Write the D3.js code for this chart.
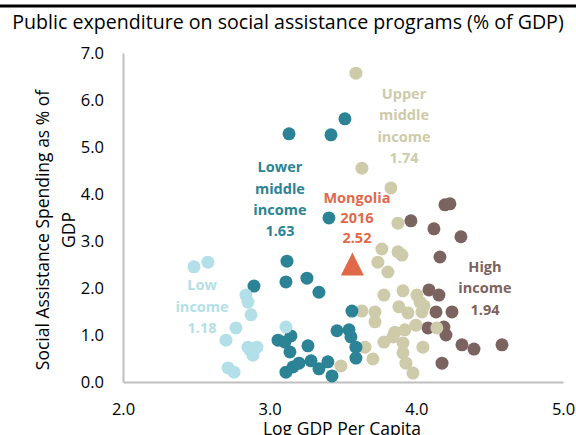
<!DOCTYPE html>
<html><head><meta charset="utf-8">
<script src="https://cdn.jsdelivr.net/npm/d3@7"></script>
<style>html,body{margin:0;padding:0;background:#fff;overflow:hidden}svg{display:block}</style>
</head><body>
<svg id="chart" width="576" height="435"></svg>
<script>
// ---- data (x = log GDP per capita, y = social assistance spending % of GDP)
const lowIncomeX = [2.484,2.579,2.838,2.852,2.873,2.770,2.702,2.852,2.913,2.886,2.866,2.716,2.757,3.111];
const lowIncomeY = [2.45,2.55,1.85,1.70,1.43,1.15,0.89,0.74,0.74,0.57,0.68,0.30,0.21,1.17];

const lowerMiddleX = [3.132,3.418,3.513,3.404,3.118,3.111,3.254,3.336,3.561,3.459,3.541,3.554,3.588,3.588,3.057,3.104,3.145,3.138,3.261,3.282,3.336,3.397,3.425,3.111,3.159,3.200,2.893];
const lowerMiddleY = [5.28,5.26,5.60,3.49,2.57,2.13,2.21,1.91,1.51,1.09,1.11,0.96,0.74,0.51,0.89,0.85,0.98,0.64,0.77,0.45,0.28,0.43,0.13,0.21,0.32,0.40,2.04];

const upperMiddleX = [3.588,3.629,3.827,3.875,3.765,3.875,3.902,3.738,3.806,3.779,3.909,4.004,4.025,4.052,4.038,3.881,3.943,3.629,3.718,3.718,3.997,4.140,3.854,3.922,3.840,3.779,3.909,3.909,3.929,3.977,4.045,3.704,3.650,3.486];
const upperMiddleY = [6.57,4.55,4.13,3.38,2.83,2.77,2.70,2.55,2.34,1.85,1.94,1.85,1.70,1.62,1.49,1.60,1.47,1.51,1.49,1.28,1.21,1.15,1.06,1.11,0.96,0.85,0.83,0.62,0.40,0.19,0.74,0.49,0.74,0.34];

const highIncomeX = [4.195,4.229,3.963,4.120,4.304,4.161,4.086,4.154,4.134,4.243,4.079,4.188,4.202,4.311,4.393,4.584,4.175];
const highIncomeY = [3.77,3.79,3.43,3.26,3.09,2.66,1.96,1.85,1.49,1.49,1.15,1.17,1.00,0.79,0.70,0.79,0.40];

const mongoliaX = [3.564];
const mongoliaY = [2.52];

const groupNames = ["High income","Upper middle income","Lower middle income","Low income"];
const groupAverages = [1.94, 1.74, 1.63, 1.18];
const mongoliaLabel = ["Mongolia", "2016", "2.52"];

const xTicks = [2,3,4,5];
const yTicks = [0,1,2,3,4,5,6,7];

const titleText = "Public expenditure on social assistance programs (% of GDP)";
const xTitle = "Log GDP Per Capita";
const yTitleLines = ["Social Assistance Spending as % of", "GDP"];

// ---- layout / style
const FONT = "'Open Sans','Noto Sans',sans-serif";
const colors = {
  "Low income": "#b3e0e8",
  "Lower middle income": "#2b8395",
  "Upper middle income": "#cdcbaa",
  "High income": "#7b6360",
  "Mongolia": "#e0694a"
};

const svg = d3.select("#chart");
const x = d3.scaleLinear().domain([2,5]).range([123,563]);
const y = d3.scaleLinear().domain([0,7]).range([382,53]);

// top rule
svg.append("line").attr("x1",0).attr("x2",576).attr("y1",6).attr("y2",6)
  .attr("stroke","#000").attr("stroke-width",3);

// title
svg.append("text").attr("x",288).attr("y",29).attr("text-anchor","middle")
  .style("font-family",FONT).style("font-size","19.6px").attr("fill","#000")
  .text(titleText);

// axes
const yAxis = d3.axisLeft(y).tickValues(yTicks).tickFormat(d3.format(".1f")).tickSize(0).tickPadding(19);
const gy = svg.append("g").attr("transform",`translate(${x(2)},0)`).call(yAxis);
const xAxis = d3.axisBottom(x).tickValues(xTicks).tickFormat(d3.format(".1f")).tickSize(0).tickPadding(21);
const gx = svg.append("g").attr("transform",`translate(0,${y(0)})`).call(xAxis);
[gx,gy].forEach(g=>{
  g.select(".domain").attr("stroke","#bfbfbf").attr("stroke-width",2);
  g.selectAll("text").style("font-family",FONT).style("font-size","16.5px").attr("fill","#000");
});

// axis titles
svg.append("text").attr("x",342).attr("y",435).attr("text-anchor","middle")
  .style("font-family",FONT).style("font-size","17.5px").attr("fill","#000").text(xTitle);
const yt = svg.append("text").attr("transform","translate(0,230) rotate(-90)")
  .attr("text-anchor","middle").style("font-family",FONT).style("font-size","17.5px").attr("fill","#000");
yt.append("tspan").attr("x",0).attr("y",49).text(yTitleLines[0]);
yt.append("tspan").attr("x",0).attr("y",75).text(yTitleLines[1]);

// points
const seriesX = {"High income":highIncomeX,"Upper middle income":upperMiddleX,"Lower middle income":lowerMiddleX,"Low income":lowIncomeX};
const seriesY = {"High income":highIncomeY,"Upper middle income":upperMiddleY,"Lower middle income":lowerMiddleY,"Low income":lowIncomeY};
groupNames.forEach(name=>{
  const pts = seriesX[name].map((v,i)=>({x:v,y:seriesY[name][i]}));
  svg.append("g").selectAll("circle").data(pts).join("circle")
    .attr("cx",d=>x(d.x)).attr("cy",d=>y(d.y)).attr("r",6.5)
    .attr("fill",colors[name]);
});

// Mongolia triangle
svg.append("g").selectAll("path").data(mongoliaX.map((v,i)=>({x:v,y:mongoliaY[i]}))).join("path")
  .attr("d",d=>{const cx=x(d.x), cy=y(d.y);
    return `M${cx},${cy-11}L${cx+11.5},${cy+12}L${cx-11.5},${cy+12}Z`;})
  .attr("fill",colors["Mongolia"]);

// annotations (anchor in data coordinates)
const annot = [
  {name:"Lower middle income", lines:["Lower","middle","income",groupAverages[2].toFixed(2)], ax:3.07, ay:4.57},
  {name:"Upper middle income", lines:["Upper","middle","income",groupAverages[1].toFixed(2)], ax:3.916, ay:6.13},
  {name:"Mongolia", lines:mongoliaLabel, ax:3.595, ay:3.91},
  {name:"High income", lines:["High","income",groupAverages[0].toFixed(2)], ax:4.468, ay:2.45},
  {name:"Low income", lines:["Low","income",groupAverages[3].toFixed(2)], ax:2.539, ay:2.06}
];
annot.forEach(a=>{
  const t = svg.append("text").attr("text-anchor","middle")
    .style("font-family",FONT).style("font-size","14.5px").style("font-weight","bold")
    .attr("fill",colors[a.name]);
  a.lines.forEach((ln,i)=>{
    t.append("tspan").attr("x",x(a.ax)).attr("y",y(a.ay)+ (a.name==="Mongolia"?20:21.3)*i).attr("dy","0.35em").text(ln);
  });
});
</script>
</body></html>
